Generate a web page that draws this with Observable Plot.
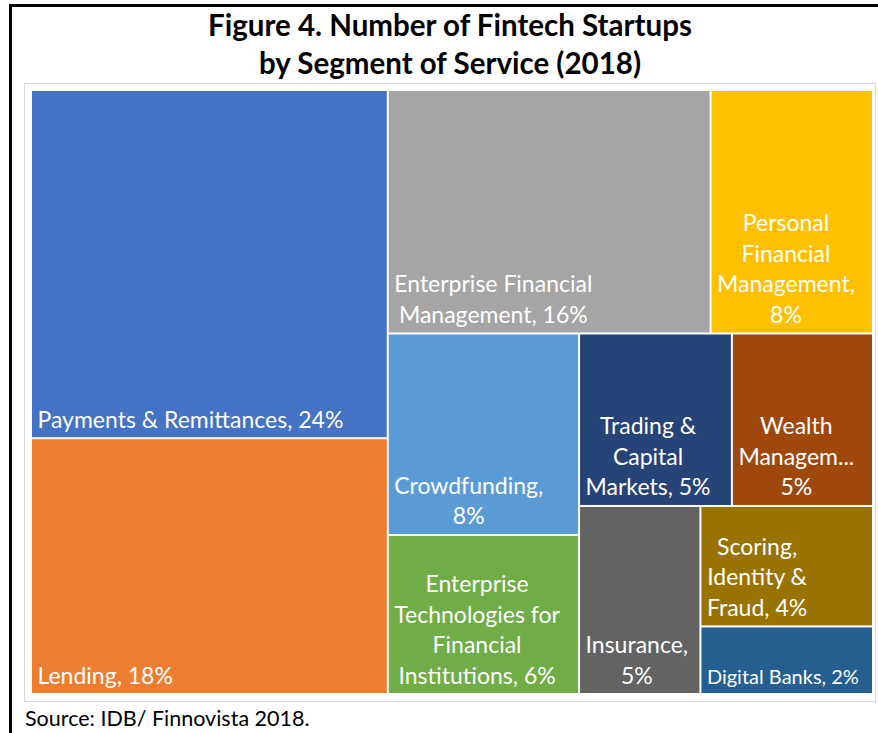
<!DOCTYPE html>
<html><head><meta charset="utf-8">
<script src="https://cdn.jsdelivr.net/npm/d3@7"></script>
<script src="https://cdn.jsdelivr.net/npm/@observablehq/plot@0.6"></script>
<style>
html,body{margin:0;padding:0;background:#fff;width:878px;height:733px;overflow:hidden;font-family:Lato,sans-serif}
#frame{position:absolute;left:9px;top:4px;width:900px;height:800px;border-left:3px solid #000;border-top:3px solid #000}
#title{position:absolute;left:0;width:900px;top:6px;text-align:center;font-weight:bold;font-size:29.5px;line-height:38px;color:#000}
#chart{position:absolute;left:24px;top:83px;border:1px solid #d9d9d9;line-height:0}
#source{position:absolute;left:25px;top:705px;font-size:21.5px;color:#000}
</style></head><body>
<div id="frame"></div>
<div id="title">Figure 4. Number of Fintech Startups<br>by Segment of Service (2018)</div>
<div id="chart"></div>
<div id="source">Source: IDB/ Finnovista 2018.</div>
<script>
// Segments of service and their estimated share (%) of fintech startups
const segments = [
  "Payments & Remittances", "Lending", "Enterprise Financial Management",
  "Personal Financial Management", "Crowdfunding",
  "Enterprise Technologies for Financial Institutions",
  "Trading & Capital Markets", "Wealth Management", "Insurance",
  "Scoring, Identity & Fraud", "Digital Banks"
];
const shares = [24.5, 18.0, 15.5, 7.8, 7.6, 6.0, 5.2, 4.8, 4.5, 4.1, 2.3];
// Data labels as printed (rounded percentages, wrapped as in the source)
const labels = [
  "Payments & Remittances, 24%",
  "Lending, 18%",
  "Enterprise Financial\nManagement, 16%",
  "Personal\nFinancial\nManagement,\n8%",
  "Crowdfunding,\n8%",
  "Enterprise\nTechnologies for\nFinancial\nInstitutions, 6%",
  "Trading &\nCapital\nMarkets, 5%",
  "Wealth\nManagem...\n5%",
  "Insurance,\n5%",
  "Scoring,\nIdentity &\nFraud, 4%",
  "Digital Banks, 2%"
];
const palette = ["#4472C4", "#ED7D31", "#A5A5A5", "#FFC000", "#5B9BD5", "#70AD47",
                 "#264478", "#9E480E", "#636363", "#997300", "#255E91"];

const W = 842, H = 604;
const baseFont = 23, smallFont = 20, pad = 6;

const table = segments.map((s, i) => ({segment: s, value: shares[i], label: labels[i]}));
const root = d3.hierarchy({children: table})
  .sum(d => d.value)
  .sort((a, b) => b.value - a.value);
d3.treemap().tile(d3.treemapSquarify.ratio(1)).size([W, H]).round(false)(root);

const ctx = document.createElement("canvas").getContext("2d");
const cells = root.leaves().map(n => {
  const fs = n.data.segment === "Digital Banks" ? smallFont : baseFont;
  ctx.font = `${fs}px Lato`;
  const maxW = d3.max(n.data.label.split("\n"), l => ctx.measureText(l).width);
  return {
    segment: n.data.segment, label: n.data.label, fs,
    x0: n.x0, x1: n.x1, y0: n.y0, y1: n.y1,
    tx: n.x0 + pad + maxW / 2
  };
});

const chart = Plot.plot({
  width: 850, height: 617,
  marginLeft: 6, marginRight: 2, marginTop: 6, marginBottom: 7,
  x: {domain: [0, W], axis: null},
  y: {domain: [0, H], reverse: true, axis: null},
  color: {domain: segments, range: palette},
  style: {fontFamily: "Lato, sans-serif", background: "#fff"},
  marks: [
    Plot.rect(cells, {x1: "x0", x2: "x1", y1: "y0", y2: "y1", fill: "segment", inset: 1}),
    Plot.text(cells, {
      x: "tx", y: "y1", text: "label", fontSize: "fs",
      fill: "white", textAnchor: "middle", lineAnchor: "bottom",
      lineHeight: 30.5 / 23, dy: -11
    })
  ]
});
document.getElementById("chart").appendChild(chart);
</script>
</body></html>
